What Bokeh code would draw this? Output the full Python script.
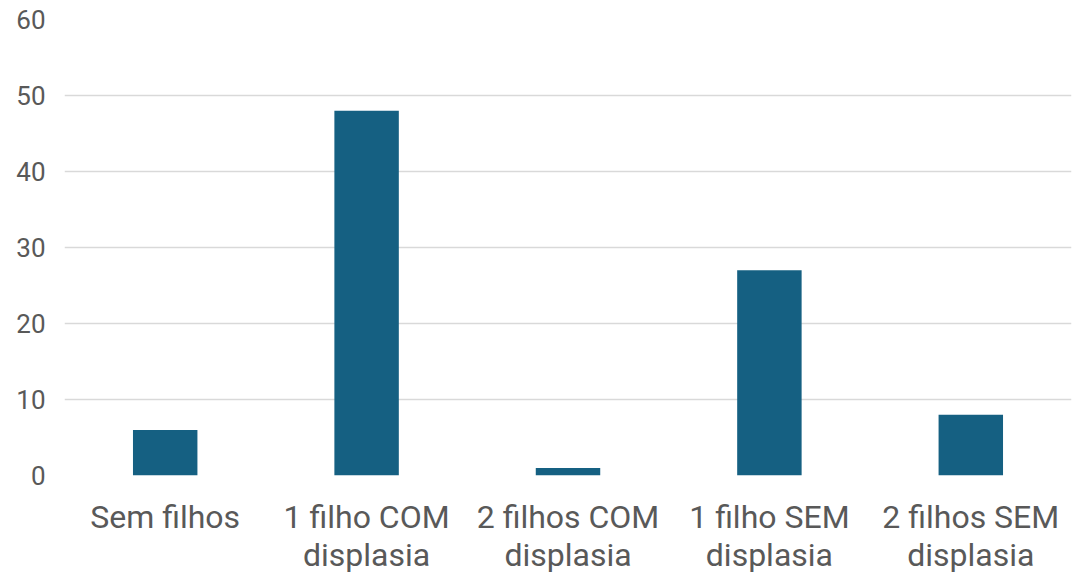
from bokeh.plotting import figure
from bokeh.embed import file_html
from bokeh.resources import INLINE
from bokeh.models import ColumnDataSource, FixedTicker

categories = ["Sem filhos", "1 filho COM\ndisplasia", "2 filhos COM\ndisplasia",
              "1 filho SEM\ndisplasia", "2 filhos SEM\ndisplasia"]
values = [6, 48, 1, 27, 8]
y_ticks = [0, 10, 20, 30, 40, 50, 60]

src = ColumnDataSource(data=dict(cat=categories, val=values))

p = figure(x_range=categories, y_range=(0, 60),
           frame_width=1007, frame_height=456,
           output_backend="svg", toolbar_location=None,
           min_border_left=64, min_border_right=20, min_border_top=19,
           min_border_bottom=96)
p.outline_line_color = None
p.background_fill_color = "white"
p.border_fill_color = "white"

p.vbar(x="cat", top="val", width=0.32, source=src, color="#156082",
       line_color=None)

p.xgrid.grid_line_color = None
p.ygrid.grid_line_color = "#D9D9D9"
p.ygrid.grid_line_width = 1.5
p.yaxis.ticker = FixedTicker(ticks=y_ticks)

for ax in (p.xaxis, p.yaxis):
    ax.axis_line_color = None
    ax.major_tick_line_color = None
    ax.minor_tick_line_color = None
    ax.major_label_text_font = "Roboto"
    ax.major_label_text_color = "#595959"

p.yaxis.major_label_text_font_size = "26px"
p.yaxis.major_label_standoff = 13
p.xaxis.major_label_text_font_size = "32px"
p.xaxis.major_label_standoff = 16
p.xaxis.major_label_text_line_height = 1.0
p.x_range.range_padding = 0

open("out.html", "w").write(file_html(p, INLINE))
